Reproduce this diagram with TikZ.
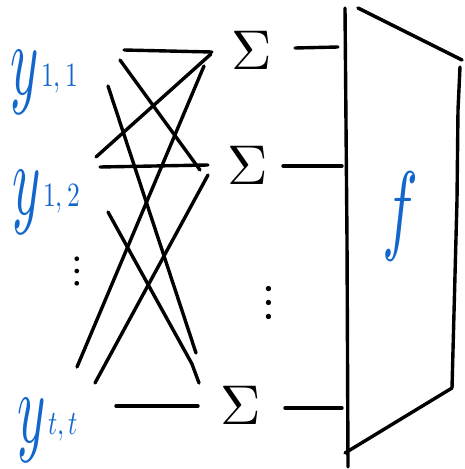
\documentclass[tikz,border=0pt]{standalone}
\usepackage{unicode-math}
\setmathfont{Latin Modern Math}
\definecolor{pen}{RGB}{18,102,204}
\newcommand\ynm[1]{\scalebox{0.9}[1.7]{\fontsize{60}{60}\selectfont$y$}\hspace{3pt}\raisebox{8pt}{\scalebox{0.75}[1]{\fontsize{34}{34}\selectfont$#1$}}}
\tikzset{
  wire/.style={line width=3.4pt, line cap=round, line join=round, draw=black},
  lab/.style={text=pen, inner sep=0pt, anchor=base west},
  sig/.style={inner sep=0pt, font=\fontsize{56}{56}\selectfont},
  vd/.style={inner sep=0pt, font=\fontsize{50}{50}\selectfont}
}
\begin{document}
\begin{tikzpicture}[x=1pt,y=-1pt]
\useasboundingbox (0,0) rectangle (465,469);
% labels
\node[lab] (y11) at (10,94) {\ynm{1,1}};
\node[lab] (y12) at (12,214) {\ynm{1,2}};
\node[lab] (ytt) at (17,442) {\ynm{t,t}};
\node[vd, font=\fontsize{44}{44}\selectfont] (ld) at (77,271) {$\vdots$};
% sums
\node[sig] (s1) at (252,50) {$\Sigma$};
\node[sig] (s2) at (248,165) {$\Sigma$};
\node[sig] (s3) at (241,405) {$\Sigma$};
\node[vd] (rd) at (269,303) {$\vdots$};
% f
\node[text=pen, inner sep=0pt] (f) at (400,216) {\scalebox{0.6}[1]{\fontsize{100}{100}\selectfont$f$}};
% wire end points
\coordinate (a11) at (124,50);  \coordinate (b11) at (212,52);
\coordinate (a21) at (96,157);  \coordinate (b21) at (211,54);
\coordinate (a12) at (120,60);  \coordinate (b12) at (200,170);
\coordinate (a13) at (108,86);  \coordinate (b13) at (196,353);
\coordinate (a22) at (100,167); \coordinate (b22) at (208,165);
\coordinate (a23) at (108,212); \coordinate (m23) at (192,364); \coordinate (b23) at (199,383);
\coordinate (a31) at (77,367);  \coordinate (b31) at (204,66);
\coordinate (a32) at (95,383);  \coordinate (b32) at (208,175);
\coordinate (a33) at (116,406); \coordinate (b33) at (198,406);
% wires
\draw[wire] (a11) -- (b11);
\draw[wire] (b21) -- (a21);
\draw[wire] (a12) -- (b12);
\draw[wire] (a13) -- (b13);
\draw[wire] (a22) -- (b22);
\draw[wire] (a23) -- (m23) -- (b23);
\draw[wire] (b31) -- (a31);
\draw[wire] (b32) -- (a32);
\draw[wire] (a33) -- (b33);
% sums to box
\coordinate (c1) at (295,48);  \coordinate (d1) at (338,47);
\coordinate (c2) at (283,166); \coordinate (d2) at (342,166);
\coordinate (c3) at (285,408); \coordinate (d3) at (342,408);
\draw[wire] (c1) -- (d1);
\draw[wire] (c2) -- (d2);
\draw[wire] (c3) -- (d3);
% box
\coordinate (lt) at (345,8);   \coordinate (lb) at (348,467);
\coordinate (tl) at (358,8);   \coordinate (tr) at (462,60);
\coordinate (rt) at (460,67);  \coordinate (rb) at (452,388);
\coordinate (bl) at (345,453);
\draw[wire] (lt) -- (347,240) -- (lb);
\draw[wire] (tl) -- (tr);
\draw[wire] (rt) -- (458,110) -- (457,200) -- (rb);
\draw[wire] (rb) -- (bl);
\end{tikzpicture}
\end{document}
